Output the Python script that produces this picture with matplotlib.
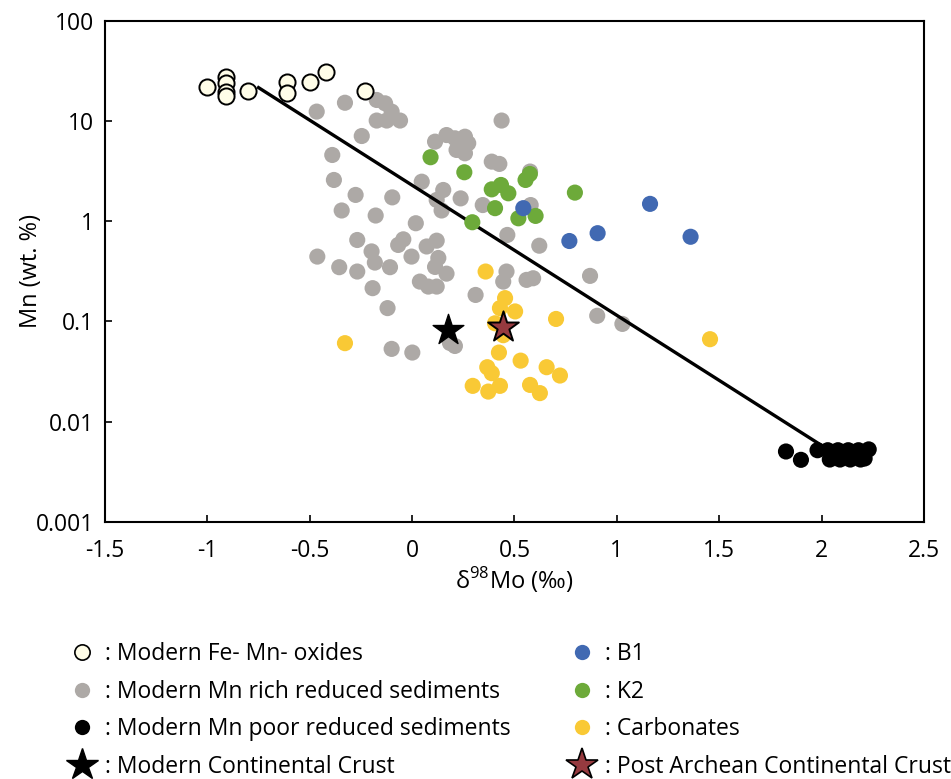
import matplotlib
import matplotlib.pyplot as plt
from matplotlib.lines import Line2D

matplotlib.use('Agg')

plt.rcParams['font.family'] = ['Open Sans', 'DejaVu Sans']
plt.rcParams['mathtext.fontset'] = 'custom'
plt.rcParams['mathtext.rm'] = 'Open Sans'

# Modern Fe-Mn oxides
oxide_x = [-1.00, -0.91, -0.91, -0.91, -0.91, -0.80, -0.61, -0.61, -0.50, -0.42, -0.23]
oxide_y = [21.7, 27.7, 23.8, 19.5, 17.7, 20.0, 24.7, 19.1, 24.7, 31.0, 20.0]

# Modern Mn rich reduced sediments
rich_x = [-0.466, -0.328, -0.173, -0.132, -0.100, -0.173, -0.124, -0.059, -0.246, -0.390,
          -0.382, -0.276, -0.344, -0.178, -0.097, 0.047, 0.018, -0.268, -0.043, 0.437,
          0.152, 0.120, 0.144, 0.237, 0.112, 0.168, 0.209, 0.258, 0.274, 0.217,
          0.258, 0.389, 0.426, 0.576, 0.345, 0.465, 0.621, -0.463, -0.356, -0.268,
          -0.198, -0.182, -0.108, -0.193, -0.068, -0.003, 0.071, 0.120, 0.128, 0.112,
          0.168, 0.038, 0.079, 0.120, 0.310, 0.461, 0.445, 0.559, 0.591, -0.120,
          -0.100, 0.001, 0.185, 0.209, 0.869, 0.904, 1.027, 0.579]
rich_y = [12.4, 15.2, 16.2, 15.0, 12.4, 10.1, 10.1, 10.1, 7.08, 4.58,
          2.58, 1.83, 1.28, 1.14, 1.73, 2.48, 0.955, 0.65, 0.66, 10.1,
          2.05, 1.63, 1.28, 1.69, 6.22, 7.24, 6.72, 6.97, 6.0, 5.14,
          4.76, 3.93, 3.73, 3.13, 1.45, 0.73, 0.57, 0.444, 0.348, 0.315,
          0.50, 0.387, 0.348, 0.215, 0.58, 0.444, 0.56, 0.64, 0.43, 0.35,
          0.30, 0.25, 0.223, 0.223, 0.184, 0.315, 0.25, 0.26, 0.27, 0.136,
          0.0533, 0.049, 0.061, 0.057, 0.285, 0.114, 0.0946, 1.45]

# Modern Mn poor reduced sediments
poor_x = [1.826, 1.899, 1.98, 2.03, 2.08, 2.13, 2.18, 2.23, 2.04, 2.09, 2.14, 2.19, 2.21]
poor_y = [0.00505, 0.00417, 0.0052, 0.0052, 0.0052, 0.0052, 0.0052, 0.0053,
          0.0042, 0.0042, 0.0042, 0.0042, 0.0043]

# B1
b1_x = [0.543, 0.768, 0.906, 1.162, 1.360]
b1_y = [1.35, 0.635, 0.76, 1.49, 0.70]

# K2
k2_x = [0.090, 0.255, 0.389, 0.434, 0.470, 0.554, 0.575, 0.405, 0.519, 0.603, 0.294, 0.795]
k2_y = [4.35, 3.08, 2.08, 2.30, 1.90, 2.58, 2.96, 1.35, 1.07, 1.13, 0.977, 1.93]

# Carbonates
carb_x = [-0.328, 0.359, 0.454, 0.429, 0.503, 0.405, 0.445, 0.703, 0.424, 0.530,
          0.367, 0.389, 0.657, 0.722, 0.296, 0.372, 0.429, 0.576, 0.624, 1.455]
carb_y = [0.0608, 0.315, 0.171, 0.136, 0.126, 0.096, 0.073, 0.106, 0.049, 0.0407,
          0.035, 0.0305, 0.035, 0.0289, 0.0228, 0.020, 0.0228, 0.0233, 0.0193, 0.0666]

# Continental crust estimates
mcc_x, mcc_y = [0.177], [0.0824]
pacc_x, pacc_y = [0.445], [0.0889]

# Trend line end points
trend_x = [-0.75, 2.0]
trend_y = [21.5, 0.0058]

xticks = [-1.5, -1, -0.5, 0, 0.5, 1, 1.5, 2, 2.5]
xtick_labels = ['-1.5', '-1', '-0.5', '0', '0.5', '1', '1.5', '2', '2.5']
yticks = [0.001, 0.01, 0.1, 1, 10, 100]
ytick_labels = ['0.001', '0.01', '0.1', '1', '10', '100']

GRAY = '#ADA9A6'
BLUE = '#4169B2'
GREEN = '#6DAA3A'
YELLOW = '#F9C935'
CREAM = '#FFFDE8'
RED = '#963A3F'

fig = plt.figure(figsize=(9.51, 7.79), dpi=100)
ax = fig.add_axes([0.1104, 0.3299, 0.8612, 0.6435])

ms = 135
ax.scatter(rich_x, rich_y, s=ms, color=GRAY, edgecolors='none', zorder=2)
ax.plot(trend_x, trend_y, color='black', lw=2.4, zorder=3)
ax.scatter(oxide_x, oxide_y, s=ms, color=CREAM, edgecolors='black', linewidths=1.4, zorder=4)
ax.scatter(k2_x, k2_y, s=ms, color=GREEN, edgecolors='none', zorder=4)
ax.scatter(b1_x, b1_y, s=ms, color=BLUE, edgecolors='none', zorder=4)
ax.scatter(carb_x, carb_y, s=ms, color=YELLOW, edgecolors='none', zorder=4)
ax.scatter(poor_x, poor_y, s=ms, color='black', edgecolors='none', zorder=4)
ax.scatter(mcc_x, mcc_y, s=540, marker='*', color='black', edgecolors='black', zorder=5)
ax.scatter(pacc_x, pacc_y, s=540, marker='*', color=RED, edgecolors='black', linewidths=1.4, zorder=5)

ax.set_yscale('log')
ax.set_xlim(-1.5, 2.5)
ax.set_ylim(0.001, 100)
ax.set_xticks(xticks, xtick_labels)
ax.set_yticks(yticks, ytick_labels)
ax.minorticks_off()
ax.tick_params(direction='in', length=5, width=1.2, labelsize=16.5)
ax.tick_params(axis='x', pad=12)
ax.tick_params(axis='y', pad=8)
for spine in ax.spines.values():
    spine.set_linewidth(1.5)

ax.set_ylabel('Mn (wt. %)', fontsize=17, labelpad=-5)
ax.set_xlabel(r'δ$^{98}$Mo (‰)', fontsize=17, labelpad=2)

# legend, two columns
left_handles = [
    Line2D([], [], ls='none', marker='o', ms=11, mfc=CREAM, mec='black', mew=1.2),
    Line2D([], [], ls='none', marker='o', ms=11, mfc=GRAY, mec='none'),
    Line2D([], [], ls='none', marker='o', ms=11, mfc='black', mec='none'),
    Line2D([], [], ls='none', marker='*', ms=24, mfc='black', mec='black'),
]
left_labels = [': Modern Fe- Mn- oxides', ': Modern Mn rich reduced sediments',
               ': Modern Mn poor reduced sediments', ': Modern Continental Crust']
right_handles = [
    Line2D([], [], ls='none', marker='o', ms=11, mfc=BLUE, mec='none'),
    Line2D([], [], ls='none', marker='o', ms=11, mfc=GREEN, mec='none'),
    Line2D([], [], ls='none', marker='o', ms=11, mfc=YELLOW, mec='none'),
    Line2D([], [], ls='none', marker='*', ms=24, mfc=RED, mec='black', mew=1.2),
]
right_labels = [': B1', ': K2', ': Carbonates', ': Post Archean Continental Crust']

leg_kw = dict(frameon=False, fontsize=16.5, handlelength=1.2, handletextpad=0.4,
              labelspacing=0.6, borderaxespad=0, borderpad=0)
fig.legend(left_handles, left_labels, loc='upper left', bbox_to_anchor=(0.072, 0.176), **leg_kw)
fig.legend(right_handles, right_labels, loc='upper left', bbox_to_anchor=(0.598, 0.176), **leg_kw)

fig.savefig('out.png', dpi=100)
